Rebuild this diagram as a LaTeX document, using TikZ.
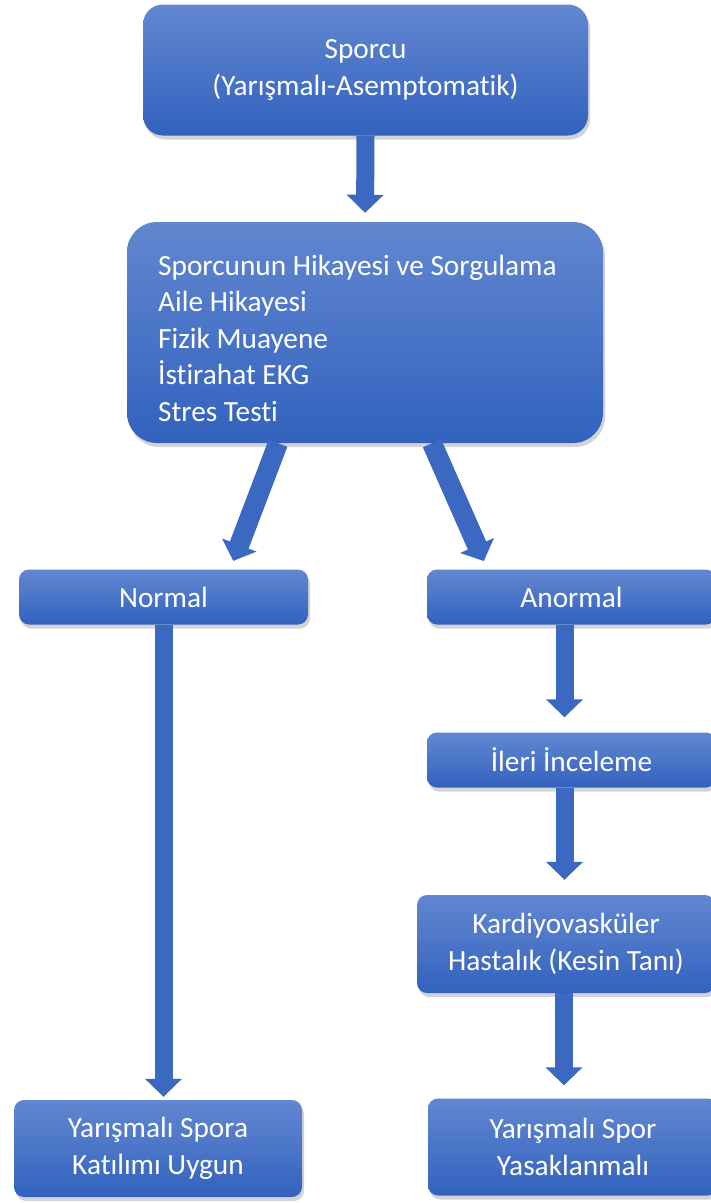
\documentclass[tikz,border=0pt]{standalone}
\usepackage{fontspec}
\setmainfont{Carlito}[RawFeature={-liga;-clig;-dlig;-calt;-rlig}]
\usetikzlibrary{shadows,arrows.meta}
\definecolor{boxtop}{RGB}{98,135,208}
\definecolor{boxbot}{RGB}{50,98,190}
\definecolor{arrowc}{RGB}{59,105,194}
\tikzset{
  box/.style={rounded corners=#1, top color=boxtop, bottom color=boxbot, draw=none,
    drop shadow={opacity=0.35, shadow xshift=2pt, shadow yshift=-4pt},
    inner sep=0pt, text=white, align=center},
  box/.default=10pt,
  txt/.style={text=white, inner sep=0pt},
  flow/.style={draw=arrowc, line width=18pt, -{Triangle[width=36pt,length=18pt]}},
  dflow/.style={draw=arrowc, line width=20pt, -{Triangle[width=36pt,length=17pt]}},
}
\begin{document}
\begin{tikzpicture}[x=1pt,y=-1pt, font=\fontsize{29.3}{36.5}\selectfont]
\useasboundingbox (0,0) rectangle (711,1203);
\node[box=20pt, minimum width=445pt, minimum height=131pt] (top) at (365.5,70) {Sporcu\\(Yarışmalı-Asemptomatik)};
\node[box=30pt, minimum width=476pt, minimum height=221pt] (hist) at (365,332.5) {};
\node[txt, anchor=west, align=left] (histtxt) at (158,338)
  {Sporcunun Hikayesi ve Sorgulama\\Aile Hikayesi\\Fizik Muayene\\İstirahat EKG\\Stres Testi};
\node[box, minimum width=289pt, minimum height=55pt] (normal) at (163.5,597) {Normal};
\node[box, minimum width=289pt, minimum height=55pt] (anormal) at (571.5,597) {Anormal};
\node[box, minimum width=289pt, minimum height=55pt] (ileri) at (571.5,760) {İleri İnceleme};
\node[box, minimum width=298pt, minimum height=98pt] (kardiyo) at (566,944) {Kardiyovasküler\\Hastalık (Kesin Tanı)};
\node[box, minimum width=288pt, minimum height=97pt] (uygun) at (158,1148.5) {Yarışmalı Spora\\Katılımı Uygun};
\node[box, minimum width=290pt, minimum height=97pt] (yasak) at (573,1147) {Yarışmalı Spor\\Yasaklanmalı};
\draw[flow, shorten >=9pt] (top.south) -- (hist.north);
\draw[dflow, shorten >=9pt] ([xshift=-87pt]hist.south) -- ([xshift=66.5pt]normal.north);
\draw[dflow, shorten >=9pt] ([xshift=67pt]hist.south) -- ([xshift=-84pt]anormal.north);
\draw[flow, shorten >=3pt] (normal.south) -- (normal.south |- uygun.north);
\draw[flow, shorten >=15pt] ([xshift=-7pt]anormal.south) -- ([xshift=-7pt]anormal.south |- ileri.north);
\draw[flow, shorten >=15pt] ([xshift=-7pt]ileri.south) -- ([xshift=-7pt]ileri.south |- kardiyo.north);
\draw[flow, shorten >=13pt] ([xshift=-2pt]kardiyo.south) -- ([xshift=-2pt]kardiyo.south |- yasak.north);
\end{tikzpicture}
\end{document}
